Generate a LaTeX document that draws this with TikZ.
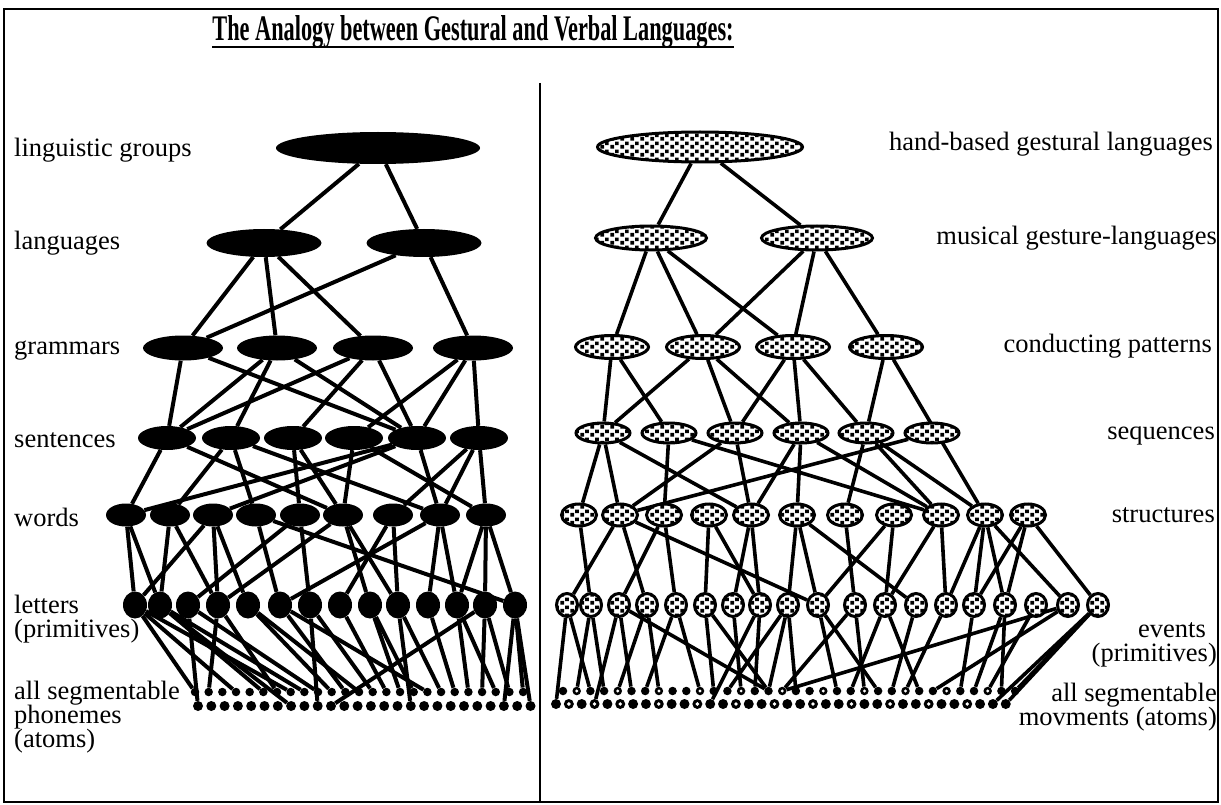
\documentclass[tikz,border=0pt]{standalone}
\usepackage{fontspec}
\setmainfont{Liberation Serif}
\usetikzlibrary{shapes.geometric,patterns}
\pgfdeclarelayer{bg}
\pgfsetlayers{bg,main}
\pgfdeclarepatternformonly{sqdots}{\pgfqpoint{0pt}{0pt}}{\pgfqpoint{10pt}{8pt}}{\pgfqpoint{10pt}{8pt}}{%
  \pgfpathrectangle{\pgfqpoint{0.5pt}{0.5pt}}{\pgfqpoint{4pt}{4pt}}%
  \pgfpathrectangle{\pgfqpoint{5.5pt}{4.2pt}}{\pgfqpoint{4pt}{3.8pt}}%
  \pgfusepath{fill}}
\begin{document}
\begin{tikzpicture}[x=1pt,y=-1pt,
  lbl/.style={font=\fontsize{26.5}{26.5}\selectfont, inner sep=0pt},
  bnode/.style={ellipse, fill=black, draw=none, inner sep=0pt},
  pnode/.style={ellipse, draw=black, line width=3pt, inner sep=0pt, preaction={fill=white}, pattern=sqdots},
  ledge/.style={line width=4pt},
  redge/.style={line width=3.6pt},
  ldot/.style={circle, fill=black, inner sep=0pt},
]
\useasboundingbox (0,0) rectangle (1221,805);
% frame
\draw[line width=1.2pt] (4,9) rectangle (1218,802);
\draw[line width=2.5pt] (4,9) -- (4,802);
\draw[line width=1.5pt] (540,83) -- (540,802);
% title
\node[lbl, font=\fontsize{36}{36}\selectfont\bfseries, anchor=base] (title) at (473,41)
  {\scalebox{0.62}[1]{The Analogy between Gestural and Verbal Languages:}};
\draw[line width=2.2pt] ([yshift=-6pt]title.base west) -- ([yshift=-6pt]title.base east);

% left labels
\node[lbl, anchor=base west] (l1) at (14,157) {linguistic groups};
\node[lbl, anchor=base west] (l2) at (14,250) {languages};
\node[lbl, anchor=base west] (l3) at (14,354) {grammars};
\node[lbl, anchor=base west] (l4) at (14,447) {sentences};
\node[lbl, anchor=base west] (l5) at (14,526) {words};
\node[lbl, anchor=base west] (l6) at (14,613) {letters};
\node[lbl, anchor=base west] (l7) at (14,637) {(primitives)};
\node[lbl, anchor=base west] (l8) at (14,699) {all segmentable};
\node[lbl, anchor=base west] (l9) at (14,723) {phonemes};
\node[lbl, anchor=base west] (l10) at (14,747) {(atoms)};
% right labels
\node[lbl, anchor=base east] (r1) at (1213,151) {hand-based gestural languages};
\node[lbl, anchor=base east] (r2) at (1217,245) {musical gesture-languages};
\node[lbl, anchor=base east] (r3) at (1212,352) {conducting patterns};
\node[lbl, anchor=base east] (r4) at (1215,439) {sequences};
\node[lbl, anchor=base east] (r5) at (1215,522) {structures};
\node[lbl, anchor=base] (r6) at (1172,637) {events};
\node[lbl, anchor=base east] (r7) at (1217,661) {(primitives)};
\node[lbl, anchor=base east] (r8) at (1217,701) {all segmentable};
\node[lbl, anchor=base east] (r9) at (1217,725) {movments (atoms)};

% left nodes
\node[bnode, minimum width=204pt, minimum height=32pt] (G) at (378,148) {};
\node[bnode, minimum width=115pt, minimum height=28pt] (A1) at (264,243) {};
\node[bnode, minimum width=115pt, minimum height=28pt] (A2) at (424,243) {};
\foreach \x [count=\i] in {183,277,373,473}
  \node[bnode, minimum width=80pt, minimum height=25pt] (R\i) at (\x,348) {};
\foreach \x [count=\i] in {167,231,293,354,417,479}
  \node[bnode, minimum width=58pt, minimum height=24pt] (S\i) at (\x,438) {};
\foreach \x [count=\i] in {126,170,213,256,300,343,393,440,486}
  \node[bnode, minimum width=40pt, minimum height=23pt] (W\i) at (\x,515) {};
\foreach \x [count=\i] in {135,160,188,218,248,280,310,340,370,398,428,457,485,515}
  \node[bnode, minimum width=24pt, minimum height=27pt] (L\i) at (\x,605) {};
\foreach \k in {0,...,24}
  \node[ldot, minimum size=8.5pt] (P\k) at ({195+13.67*\k},692) {};
\foreach \k in {0,...,25}
  \node[ldot, minimum size=10pt] (Q\k) at ({198+13.3*\k},706) {};

% right nodes
\node[pnode, minimum width=205pt, minimum height=30pt] (H) at (700,147) {};
\node[pnode, minimum width=111pt, minimum height=24pt] (M1) at (651,238) {};
\node[pnode, minimum width=111pt, minimum height=24pt] (M2) at (817,238) {};
\foreach \x [count=\i] in {612,703,793,886}
  \node[pnode, minimum width=73pt, minimum height=23pt] (C\i) at (\x,347) {};
\foreach \x [count=\i] in {603,669,735,801,866,932}
  \node[pnode, minimum width=54pt, minimum height=20pt] (Sq\i) at (\x,433) {};
\foreach \x [count=\i] in {579,620,664,709,751,797,845,894,941,985,1028}
  \node[pnode, minimum width=35pt, minimum height=22pt] (T\i) at (\x,515) {};
\foreach \x [count=\i] in {567,591,619,647,676,705,733,760,788,818,855,885,916,946,974,1005,1036,1068,1098}
  \node[pnode, minimum width=21pt, minimum height=23pt] (E\i) at (\x,605) {};
\foreach \k in {0,...,33}
  \node[ldot, minimum size=8.5pt] (U\k) at ({563+13.7*\k},691) {};
\foreach \k in {0,...,35}
  \node[ldot, minimum size=10pt] (V\k) at ({556+12.85*\k},704) {};
\foreach \k in {1,4,...,31} \fill[white] (U\k.center) circle (1.6pt);
\foreach \k in {1,3,5,8,11,14,17,20,23,26,29,32} \fill[white] (V\k.center) circle (1.9pt);

\begin{pgfonlayer}{bg}
\foreach \a/\b in {G/A1, G/A2,
  A1/R1, A1/R2, A1/R3, A2/R1, A2/R4,
  R1/S1, R1/S5, R2/S1, R2/S2, R2/S5, R3/S1, R3/S3, R3/S5, R4/S4, R4/S5, R4/S6,
  S1/W1, S1/W6, S2/W2, S2/W4, S2/W8, S3/W5, S3/W6, S4/W6, S4/W9, S5/W1, S5/W3, S5/W8, S6/W7, S6/W8, S6/W9,
  W1/L1, W1/L2, W2/L2, W2/L4, W3/L1, W3/L4, W3/L5, W4/L6, W4/L14, W5/L3, W5/L7, W6/L4, W6/L9, W6/L10,
  W7/L8, W7/L10, W8/L6, W8/L11, W8/L12, W9/L12, W9/L13, W9/L14,
  L1/P0, L1/P3, L1/P7, L2/P5, L2/P8, L2/Q7, L3/Q0, L3/P9, L4/P1, L4/P6, L5/P10, L5/P12, L6/P11, L6/P17,
  L7/P13, L7/Q9, L8/P14, L9/P15, L9/P16, L10/P18, L10/Q16, L11/P19, L12/P20, L12/P22, L13/P21, L13/P23,
  L13/Q10, L14/P24, L14/Q25, L14/Q23}
  \draw[ledge] (\a) -- (\b);
\foreach \a/\b in {H/M1, H/M2,
  M1/C1, M1/C2, M1/C3, M2/C2, M2/C3, M2/C4,
  C1/Sq1, C1/Sq2, C2/Sq1, C2/Sq3, C2/Sq4, C3/Sq3, C3/Sq4, C3/Sq5, C4/Sq5, C4/T10,
  Sq1/T1, Sq1/T2, Sq1/T5, Sq2/T3, Sq2/T9, Sq3/T2, Sq3/T5, Sq4/T5, Sq4/T6, Sq4/T9, Sq5/T7, Sq5/T9, Sq5/T10, Sq6/T2,
  T1/E2, T2/E1, T2/E4, T2/E10, T3/E3, T3/E5, T4/E6, T4/E8, T5/E7, T5/E8, T6/E9, T6/E10, T6/E13, T7/E11,
  T8/E10, T8/E12, T9/E12, T9/E14, T10/E14, T10/E15, T10/E16, T10/E18, T11/E15, T11/E16, T11/E19,
  E1/V0, E1/U2, E2/U1, E2/U3, E3/V3, E3/U5, E3/U15, E4/U4, E4/U7, E5/U6, E5/U10, E6/U11, E6/U15,
  E7/U13, E8/U14, E8/V12, E9/U12, E9/U17, E9/U15, E10/U20, E10/U23, E11/U16, E11/U22, E12/U21, E12/U26,
  E13/U24, E14/U25, E15/U29, E16/U32, E16/U30, E17/U31, E18/U16, E18/U27, E19/V35, E19/U33, E19/V34}
  \draw[redge] (\a) -- (\b);
\end{pgfonlayer}
\end{tikzpicture}
\end{document}
